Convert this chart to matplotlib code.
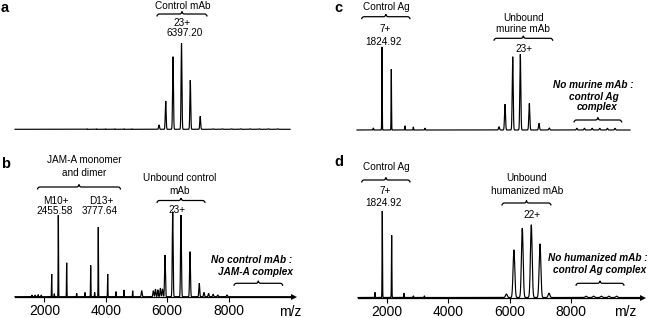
import numpy as np
import matplotlib
matplotlib.use('Agg')
import matplotlib.pyplot as plt
from matplotlib.path import Path
from matplotlib.patches import PathPatch

W, H = 649, 318
plt.rcParams['font.family'] = ['Liberation Sans', 'DejaVu Sans']

# ---------------- data (m/z centre, relative intensity %) ----------------
a_mz = [3400, 3700, 4000, 4300, 4600, 4850, 5736, 5954, 6192, 6469, 6755, 7078,
        7500, 7800, 8100, 8400, 8700, 9000, 9300, 9600]
a_int = [0.6, 0.6, 0.6, 0.6, 0.6, 0.6, 5, 33, 84.5, 100, 57, 15,
         0.6, 0.6, 0.6, 0.6, 0.6, 0.6, 0.6, 0.6]

b_mz = [1600, 1700, 1800, 1900, 2240, 2325, 2456, 2728, 3054, 3325, 3510, 3640,
        3758, 4064, 4335, 4596, 4878, 5171, 5550, 5620, 5700, 5780, 5850,
        5931, 6182, 6452, 6746, 7048, 7200, 7350, 7500, 7650, 7950]
b_int = [2, 2, 2.5, 2, 26.7, 3.5, 96, 40, 4, 5, 37, 5,
         82, 26.7, 6, 8, 7, 7, 7, 9, 8, 10, 9,
         49, 100, 96, 53, 15.6, 5, 4, 3, 2, 2]

c_mz = [1542, 1827, 2131, 2579, 2851, 3233, 5654, 5850, 6102, 6351, 6645, 6962,
        7299, 8200, 8450, 8700, 8950, 9200, 9450]
c_int = [2.5, 100, 73, 5, 3.6, 2.4, 4, 31, 88, 91, 32, 8,
         2.4, 2, 2, 2, 2, 2, 2]

d_mz = [1596, 1836, 2142, 2546, 2852, 3213, 5896, 6142, 6415, 6710, 6995, 7290,
        8500, 8750, 9000, 9250, 9500]
d_int = [6, 100, 72, 5, 2, 2, 4, 55, 80, 84, 62, 5,
         1.5, 1.5, 1.5, 1.5, 1.5]

ticks = [2000, 4000, 6000, 8000]
tick_labels = ['2000', '4000', '6000', '8000']

# ---------------- layout helpers (pixel space) ----------------
fig = plt.figure(figsize=(W / 100, H / 100), dpi=100)

def left_mz(px):
    return 2455.6 + (px - 58.3) / 0.0307

def right_mz(px):
    return 2000 + (px - 387.3) / 0.03057


def make_ax(px0, px1, base, hpx, mzf):
    ax = fig.add_axes([px0 / W, 1 - base / H, (px1 - px0) / W, hpx / H])
    ax.set_xlim(mzf(px0), mzf(px1))
    ax.set_ylim(0, 100)
    for s in ax.spines.values():
        s.set_visible(False)
    ax.set_yticks([])
    ax.set_xticks([])
    ax.patch.set_alpha(0)
    return ax


def spectrum(ax, mz, inten, x0, x1, w_ag, w_mab):
    x = np.linspace(x0, x1, 9000)
    y = np.zeros_like(x)
    for c, h in zip(mz, inten):
        s = w_mab if c > 5000 else w_ag
        y += h * np.exp(-0.5 * ((x - c) / s) ** 2)
    ax.plot(x, y, color='black', lw=0.85, clip_on=False, solid_joinstyle='miter')


def add_axis(ax):
    ax.spines['bottom'].set_visible(True)
    ax.spines['bottom'].set_linewidth(0.9)
    ax.set_xticks(ticks)
    ax.set_xticklabels(tick_labels, fontsize=10)
    ax.tick_params(axis='x', direction='out', length=3.5, width=0.8, pad=2)
    ax.plot([1.0], [0], marker='>', color='black', ms=4.5, transform=ax.transAxes,
            clip_on=False, mew=0)


# panel a
ax_a = make_ax(15, 294, 129.3, 86, left_mz)
spectrum(ax_a, a_mz, a_int, left_mz(15), left_mz(290), 6, 14)

# panel b
ax_b = make_ax(15, 294, 296.7, 85, left_mz)
spectrum(ax_b, b_mz, b_int, left_mz(15), left_mz(292), 6, 14)
add_axis(ax_b)

# panel c
ax_c = make_ax(357, 643, 130, 83.3, right_mz)
spectrum(ax_c, c_mz, c_int, right_mz(357), right_mz(630), 7, 16)

# panel d
ax_d = make_ax(358, 643, 297.5, 86.5, right_mz)
spectrum(ax_d, d_mz, d_int, right_mz(358), right_mz(641), 7, 28)
add_axis(ax_d)

# ---------------- overlay for annotations ----------------
ov = fig.add_axes([0, 0, 1, 1])
ov.set_xlim(0, W)
ov.set_ylim(H, 0)
ov.axis('off')
ov.patch.set_alpha(0)


def brace(x0, x1, y, h=2.5):
    xc = (x0 + x1) / 2
    verts = [(x0, y + h), (x0, y), (x0 + h, y), (xc - h, y), (xc, y), (xc, y - h),
             (xc, y), (xc + h, y), (x1 - h, y), (x1, y), (x1, y + h)]
    codes = [Path.MOVETO, Path.CURVE3, Path.CURVE3, Path.LINETO, Path.CURVE3, Path.CURVE3,
             Path.CURVE3, Path.CURVE3, Path.LINETO, Path.CURVE3, Path.CURVE3]
    ov.add_patch(PathPatch(Path(verts, codes), fill=False, lw=0.9, color='black'))


def t(x, y, s, size=7.2, **kw):
    ov.text(x, y, s, fontsize=size, ha='center', va='center', **kw)


def letter(x, y, s):
    ov.text(x, y, s, fontsize=10.5, fontweight='bold', ha='left', va='top')

# a
letter(1, 0.5, 'a')
t(183, 5.8, 'Control mAb')
brace(157, 207, 14)
t(182.5, 23.3, '23+')
t(185, 33.3, '6397.20')

# b
letter(1, 157, 'b')
t(84, 160, 'JAM-A monomer')
t(84, 172.7, 'and dimer')
brace(37.5, 120.5, 187)
t(56, 200.7, 'M10+')
t(101, 200.7, 'D13+')
t(55, 211, '2455.58')
t(99.5, 211, '3777.64')
t(180, 178.3, 'Unbound control')
t(180, 191.5, 'mAb')
brace(157, 205, 200.5)
t(177, 210, '23+')
t(252, 260, 'No control mAb :', fontweight='bold', style='italic')
t(255, 271.7, 'JAM-A complex', fontweight='bold', style='italic')
brace(234, 282.7, 283.3)
t(290, 312, 'm/z', size=10)

# c
letter(334, 0.5, 'c')
t(386.7, 6.7, 'Control Ag')
brace(361.7, 410, 16.7)
t(385, 29.3, '7+')
t(383.3, 41.7, '1824.92')
t(523.3, 18.3, 'Unbound')
t(523.3, 29.3, 'murine mAb')
brace(494, 552.7, 38.3)
t(524, 49.3, '23+')
t(593.3, 85, 'No murine mAb :', fontweight='bold', style='italic')
t(594.3, 96.7, 'control Ag', fontweight='bold', style='italic')
t(596.7, 107.3, 'complex', fontweight='bold', style='italic')
brace(574, 621.7, 120)

# d
letter(334, 155, 'd')
t(386.7, 167, 'Control Ag')
brace(361.7, 410, 180)
t(385, 191, '7+')
t(383.3, 203, '1824.92')
t(527, 178, 'Unbound')
t(527, 191, 'humanized mAb')
brace(502, 551, 203)
t(532, 215, '22+')
t(598, 258, 'No humanized mAb :', fontweight='bold', style='italic')
t(600, 270, 'control Ag complex', fontweight='bold', style='italic')
brace(576, 624, 283.3)
t(625, 312, 'm/z', size=10)

fig.savefig('out.png', dpi=100)
